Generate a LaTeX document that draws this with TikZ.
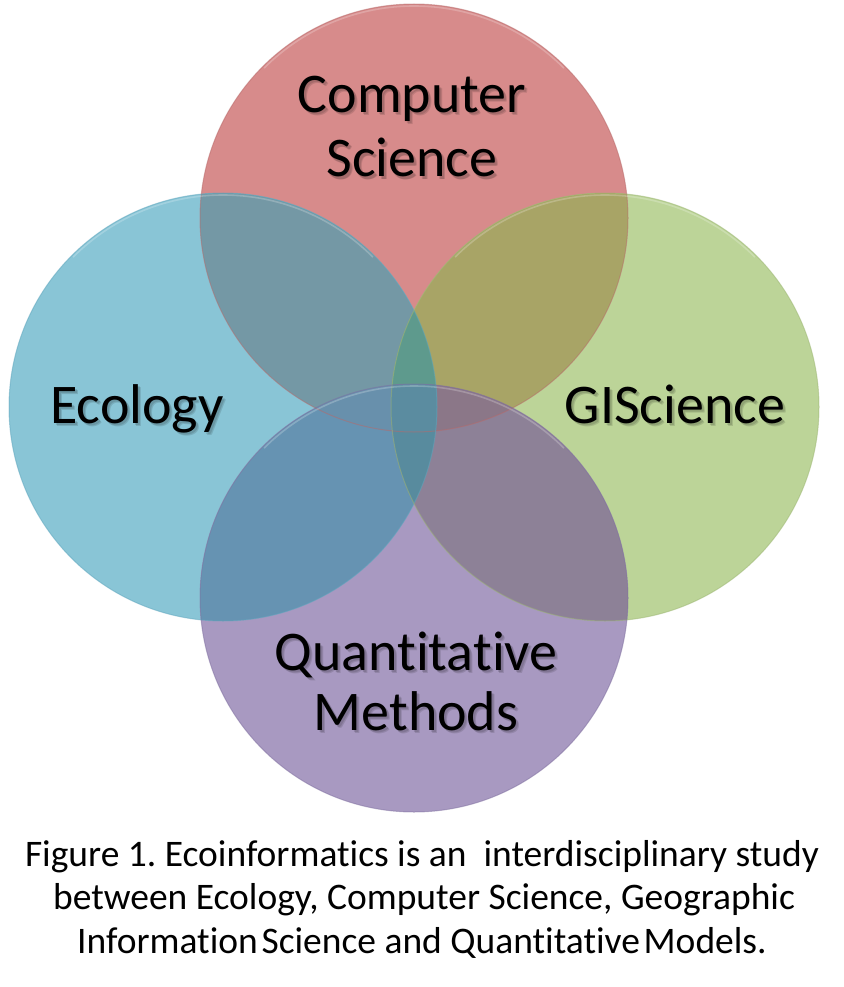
\documentclass[tikz,border=0pt]{standalone}
\usepackage{fontspec}
\setmainfont{Carlito}[RawFeature={-liga;-clig}]
\frenchspacing
\definecolor{cR}{HTML}{D78B8B}
\definecolor{cB}{HTML}{89C5D6}
\definecolor{cG}{HTML}{BCD498}
\definecolor{cP}{HTML}{A899C1}
\definecolor{cRB}{HTML}{7498A5}
\definecolor{cRG}{HTML}{A8A466}
\definecolor{cBP}{HTML}{6693B2}
\definecolor{cGP}{HTML}{8D8197}
\definecolor{cRBG}{HTML}{5E9A8D}
\definecolor{cRBP}{HTML}{6890AC}
\definecolor{cRGP}{HTML}{8B7788}
\definecolor{cBGP}{HTML}{588B9E}
\definecolor{cALL}{HTML}{5B8CA0}
\definecolor{eR}{HTML}{B86A6A}
\definecolor{eB}{HTML}{5FA6BE}
\definecolor{eG}{HTML}{9DB774}
\definecolor{eP}{HTML}{8070A0}
\def\RC{(414,218) circle[radius=214pt]}
\def\BC{(223,407) circle[radius=214pt]}
\def\GC{(605,407) circle[radius=214pt]}
\def\PC{(414,598) circle[radius=214pt]}
\tikzset{
  big/.style={font=\fontsize{56}{64}\selectfont, anchor=base, inner sep=0pt, text=black},
  bigsh/.style={big, text=black, opacity=0.12},
  captext/.style={font=\fontsize{37.5}{44}\selectfont, anchor=base, inner sep=0pt, text=black},
  rim/.style={line width=1pt, draw opacity=0.5},
  shine/.style={line width=1.6pt, white, draw opacity=0.22}
}
\begin{document}
\begin{tikzpicture}[x=1pt,y=-1pt]
\useasboundingbox[fill=white] (0,0) rectangle (843,987);
% single circles
\fill[cR] \RC;
\fill[cB] \BC;
\fill[cG] \GC;
\fill[cP] \PC;
% pairwise
\begin{scope}\clip \RC; \fill[cRB] \BC; \fill[cRG] \GC; \end{scope}
\begin{scope}\clip \PC; \fill[cBP] \BC; \fill[cGP] \GC; \end{scope}
% triples
\begin{scope}\clip \RC; \clip \BC; \fill[cRBG] \GC; \fill[cRBP] \PC; \end{scope}
\begin{scope}\clip \RC; \clip \GC; \fill[cRGP] \PC; \end{scope}
\begin{scope}\clip \BC; \clip \GC; \fill[cBGP] \PC; \end{scope}
\begin{scope}\clip \RC; \clip \BC; \clip \GC; \fill[cALL] \PC; \end{scope}
% rims
\draw[rim, eR] \RC;
\draw[rim, eB] \BC;
\draw[rim, eG] \GC;
\draw[rim, eP] \PC;
% top highlights
\draw[shine] (414,218) ++(45:212pt) arc[start angle=45, end angle=135, radius=212pt];
\draw[shine] (223,407) ++(45:212pt) arc[start angle=45, end angle=135, radius=212pt];
\draw[shine] (605,407) ++(45:212pt) arc[start angle=45, end angle=135, radius=212pt];
\draw[shine] (414,598) ++(45:212pt) arc[start angle=45, end angle=135, radius=212pt];
% label shadows (soft)
\node[bigsh] (cs1s) at (414,115) {Computer};
\node[bigsh] (cs2s) at (414,179) {Science};
\node[bigsh] (ecs) at (139,425) {Ecology};
\node[bigsh] (gis) at (677,425) {GIScience};
\node[bigsh] (qm1s) at (418,672) {Quantitative};
\node[bigsh] (qm2s) at (418,732) {Methods};
\node[bigsh] (cs1t) at (415,116) {Computer};
\node[bigsh] (cs2t) at (415,180) {Science};
\node[bigsh] (ect) at (140,426) {Ecology};
\node[bigsh] (git) at (678,426) {GIScience};
\node[bigsh] (qm1t) at (419,673) {Quantitative};
\node[bigsh] (qm2t) at (419,733) {Methods};
% labels
\node[big] (cs1) at (412,113) {Computer};
\node[big] (cs2) at (412,177) {Science};
\node[big] (ec) at (137,423) {Ecology};
\node[big] (gi) at (675,423) {GIScience};
\node[big] (qm1) at (416,670) {Quantitative};
\node[big] (qm2) at (416,730) {Methods};
% caption
\node[captext] (c1) at (422,866) {Figure 1. Ecoinformatics is an\ \ interdisciplinary study};
\node[captext] (c2) at (424,909) {between Ecology, Computer Science, Geographic};
\node[captext] (c3) at (422,953) {Information\hspace{0.1em}Science and Quantitative\hspace{0.1em}Models.};
\end{tikzpicture}
\end{document}
